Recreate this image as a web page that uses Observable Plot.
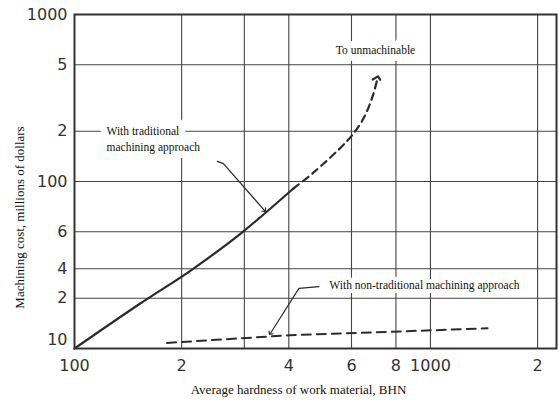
<!DOCTYPE html>
<html><head><meta charset="utf-8">
<script src="https://cdn.jsdelivr.net/npm/d3@7"></script>
<script src="https://cdn.jsdelivr.net/npm/@observablehq/plot@0.6"></script>
<style>
body{margin:0;background:#fff}
#chart svg{display:block}
</style>
</head><body><div id="chart"></div>
<script>
// Axis ticks (positions on the log scales) and the labels printed on the chart
const xTicks = [100, 200, 400, 600, 800, 1000, 2000];
const xTickLabels = ["100", "2", "4", "6", "8", "1000", "2"];
const xGrid = [200, 300, 400, 600, 800, 1000, 2000];
const yTicks = [10, 20, 30, 50, 100, 200, 500, 1000];
const yTickLabels = ["10", "2", "4", "6", "100", "2", "5", "1000"];
const yGrid = [20, 30, 50, 100, 200, 500];

// Traditional machining: solid part
const tradHardness = [100, 153, 212, 293, 412];
const tradCost = [10, 18.6, 29.3, 48.8, 90.8];
// Traditional machining: dashed extrapolation "to unmachinable"
const tradExtHardness = [412, 469, 585, 636, 670, 692, 710];
const tradExtCost = [90.8, 113, 176, 222, 277, 337, 414];
// Non-traditional machining (dashed)
const nonTradHardness = [182, 400, 1446];
const nonTradCost = [10.8, 12.0, 13.2];

// Annotations (anchor points in data units)
const labelTrad = "With traditional\nmachining approach";
const labelTradAt = [123, 183];
const leaderTradHardness = [252, 262, 342];
const leaderTradCost = [132, 128, 67];
const labelUnmach = "To unmachinable";
const labelUnmachAt = [701, 608];
const labelNonTrad = "With non-traditional machining approach";
const labelNonTradAt = [520, 24];
const leaderNonTradHardness = [486, 427, 355];
const leaderNonTradCost = [23.5, 22.9, 12.3];

const xTitle = "Average hardness of work material, BHN";
const yTitle = "Machining cost, millions of dollars";

const zip = (xs, ys) => xs.map((x, i) => ({x, y: ys[i]}));
const trad = zip(tradHardness, tradCost);
const tradExt = zip(tradExtHardness, tradExtCost);
const nonTrad = zip(nonTradHardness, nonTradCost);
const leadTrad = zip(leaderTradHardness, leaderTradCost);
const leadNon = zip(leaderNonTradHardness, leaderNonTradCost);
const xLab = xTicks.map((v, i) => ({v, t: xTickLabels[i]}));
const yLab = yTicks.map((v, i) => ({v, t: yTickLabels[i]}));

const serif = "'Liberation Serif', 'Times New Roman', serif";
const sans = "'DejaVu Sans', sans-serif";
const ink = "#2b2b2b";

const chart = Plot.plot({
  width: 559,
  height: 405,
  marginLeft: 74,
  marginRight: 3,
  marginTop: 14,
  marginBottom: 57,
  style: {background: "#fff", fontFamily: sans},
  x: {type: "log", domain: [100, 2260], axis: null},
  y: {type: "log", domain: [10, 1000], axis: null},
  marks: [
    Plot.ruleX(xGrid, {stroke: "#444", strokeWidth: 1.1}),
    Plot.ruleY(yGrid, {stroke: "#444", strokeWidth: 1.1}),
    Plot.text([labelTrad], {x: labelTradAt[0], y: labelTradAt[1], textAnchor: "start", lineHeight: 1.45,
      fontFamily: serif, fontSize: 11.5, fill: "#111", stroke: "white", strokeWidth: 14, strokeLinejoin: "round"}),
    Plot.text([labelUnmach], {x: labelUnmachAt[0], y: labelUnmachAt[1], textAnchor: "middle",
      fontFamily: serif, fontSize: 11.5, fill: "#111", stroke: "white", strokeWidth: 14, strokeLinejoin: "round"}),
    Plot.text([labelNonTrad], {x: labelNonTradAt[0], y: labelNonTradAt[1], textAnchor: "start",
      fontFamily: serif, fontSize: 11.5, fill: "#111", stroke: "white", strokeWidth: 8, strokeLinejoin: "round"}),
    Plot.line(trad, {x: "x", y: "y", stroke: ink, strokeWidth: 2.2, curve: "catmull-rom"}),
    Plot.line(tradExt, {x: "x", y: "y", stroke: ink, strokeWidth: 2.2, strokeDasharray: "7,5", curve: "catmull-rom", markerEnd: "arrow"}),
    Plot.line(nonTrad, {x: "x", y: "y", stroke: ink, strokeWidth: 2, strokeDasharray: "9,6"}),
    Plot.line(leadTrad, {x: "x", y: "y", stroke: ink, strokeWidth: 1.2, markerEnd: "arrow"}),
    Plot.line(leadNon, {x: "x", y: "y", stroke: ink, strokeWidth: 1.2, markerEnd: "arrow"}),
    Plot.frame({stroke: "#333", strokeWidth: 2}),
    // x tick labels
    Plot.text(xLab, {x: "v", text: "t", frameAnchor: "bottom", dy: 17, lineAnchor: "middle",
      fontSize: 16, fill: "#333", fontFamily: sans}),
    // y tick labels (the bottom "10" sits a little above the corner)
    Plot.text(yLab.slice(1), {y: "v", text: "t", frameAnchor: "left", dx: -7, textAnchor: "end", lineAnchor: "middle",
      fontSize: 16, fill: "#333", fontFamily: sans}),
    Plot.text(yLab.slice(0, 1), {y: "v", text: "t", frameAnchor: "left", dx: -7, dy: -9, textAnchor: "end", lineAnchor: "middle",
      fontSize: 16, fill: "#333", fontFamily: sans}),
    Plot.text([xTitle], {frameAnchor: "bottom", dy: 45, dx: -17, textAnchor: "middle", fontFamily: serif, fontSize: 13, fill: "#111"}),
    Plot.text([yTitle], {frameAnchor: "left", dx: -55, dy: 36, rotate: -90, textAnchor: "middle", fontFamily: serif, fontSize: 13, fill: "#111"})
  ]
});
document.getElementById("chart").append(chart);
</script>
</body></html>
